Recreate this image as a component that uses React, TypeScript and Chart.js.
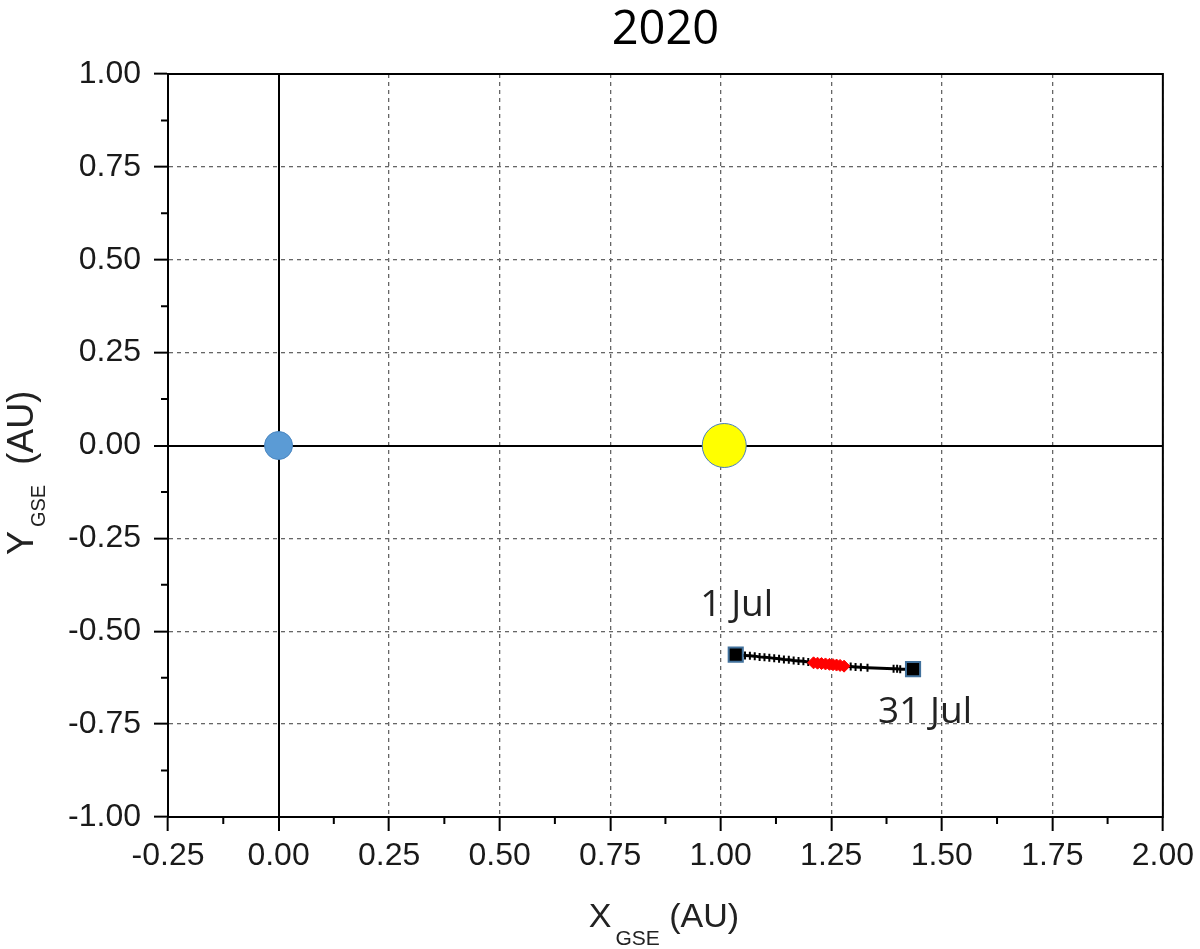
import React, { useEffect, useRef } from "react";
import { Chart, registerables } from "chart.js";

Chart.register(...registerables);

// ---- data ----
const titleText = "2020";
const xTicks = [-0.25, 0, 0.25, 0.5, 0.75, 1.0, 1.25, 1.5, 1.75, 2.0];
const yTicks = [-1.0, -0.75, -0.5, -0.25, 0, 0.25, 0.5, 0.75, 1.0];

const earthPos = [{ x: 0.0, y: 0.0 }];
const sunPos = [{ x: 1.008, y: 0.0 }];

// spacecraft track, July 2020 (black part)
const trackX = [
  1.034, 1.055, 1.066, 1.077, 1.088, 1.099, 1.11, 1.121, 1.132, 1.143, 1.154,
  1.165, 1.176, 1.187, 1.198, 1.21, 1.219, 1.228, 1.237, 1.246, 1.254, 1.262,
  1.27, 1.279, 1.294, 1.305, 1.317, 1.332, 1.391, 1.399, 1.406, 1.435,
];
const trackY = [
  -0.563, -0.565, -0.566, -0.567, -0.569, -0.57, -0.571, -0.573, -0.574,
  -0.576, -0.577, -0.579, -0.58, -0.581, -0.583, -0.585, -0.586, -0.587,
  -0.588, -0.589, -0.59, -0.591, -0.592, -0.594, -0.595, -0.596, -0.597,
  -0.598, -0.601, -0.601, -0.602, -0.602,
];
// highlighted (red) part of the track
const redX = [1.21, 1.219, 1.228, 1.237, 1.246, 1.254, 1.262, 1.27, 1.279];
const redY = [-0.585, -0.586, -0.587, -0.588, -0.589, -0.59, -0.591, -0.592, -0.594];

const startLabel = "1 Jul";
const endLabel = "31 Jul";

export default function App() {
  const ref = useRef<HTMLCanvasElement | null>(null);

  useEffect(() => {
    if (!ref.current) return;
    const track = trackX.map((x, i) => ({ x, y: trackY[i] }));
    const red = redX.map((x, i) => ({ x, y: redY[i] }));
    const ends = [track[0], track[track.length - 1]];

    const tickFont = { family: '"Liberation Sans", Arial, sans-serif', size: 32 };

    const decor = {
      id: "decor",
      afterDraw(chart: any) {
        const { ctx, chartArea: a, scales } = chart;
        const xs = scales.x;
        const ys = scales.y;
        ctx.save();
        // frame
        ctx.strokeStyle = "#000";
        ctx.lineWidth = 2;
        ctx.strokeRect(a.left, a.top, a.right - a.left, a.bottom - a.top);
        // minor ticks
        ctx.beginPath();
        for (let i = 0; i < xTicks.length - 1; i++) {
          const v = (xTicks[i] + xTicks[i + 1]) / 2;
          const px = xs.getPixelForValue(v);
          ctx.moveTo(px, a.bottom);
          ctx.lineTo(px, a.bottom + 7);
        }
        for (let i = 0; i < yTicks.length - 1; i++) {
          const v = (yTicks[i] + yTicks[i + 1]) / 2;
          const py = ys.getPixelForValue(v);
          ctx.moveTo(a.left - 7, py);
          ctx.lineTo(a.left, py);
        }
        ctx.stroke();

        // title
        ctx.fillStyle = "#000";
        ctx.font = '47px "Open Sans", sans-serif';
        ctx.textAlign = "center";
        ctx.textBaseline = "alphabetic";
        ctx.fillText(titleText, (a.left + a.right) / 2, 44);

        // x axis title with subscript
        const mainF = '34px "Liberation Sans", Arial, sans-serif';
        const subF = '21px "Liberation Sans", Arial, sans-serif';
        ctx.fillStyle = "#222";
        ctx.textAlign = "left";
        ctx.font = mainF;
        const wX = ctx.measureText("X").width;
        const wAU = ctx.measureText(" (AU)").width;
        ctx.font = subF;
        const wG = ctx.measureText("GSE").width;
        const gap = 4;
        let total = wX + gap + wG + wAU;
        let sx = 664 - total / 2;
        ctx.font = mainF;
        ctx.fillText("X", sx, 927);
        ctx.font = subF;
        ctx.fillText("GSE", sx + wX + gap, 945);
        ctx.font = mainF;
        ctx.fillText(" (AU)", sx + wX + gap + wG, 927);

        // y axis title with subscript (rotated)
        const mainY = '36px "Liberation Sans", Arial, sans-serif';
        const subY = '20px "Liberation Sans", Arial, sans-serif';
        ctx.save();
        ctx.translate(33, 473);
        ctx.rotate(-Math.PI / 2);
        ctx.font = mainY;
        const wY = ctx.measureText("Y").width;
        const wAU2 = ctx.measureText("  (AU)").width;
        ctx.font = subY;
        const wG2 = ctx.measureText("GSE").width;
        total = wY + gap + wG2 + wAU2;
        sx = -total / 2;
        ctx.font = mainY;
        ctx.fillText("Y", sx, 0);
        ctx.font = subY;
        ctx.fillText("GSE", sx + wY + gap, 12);
        ctx.font = mainY;
        ctx.fillText("  (AU)", sx + wY + gap + wG2, 0);
        ctx.restore();

        // date annotations
        ctx.fillStyle = "#222";
        ctx.font = '37px "Open Sans", sans-serif';
        ctx.textAlign = "center";
        const p0x = xs.getPixelForValue(ends[0].x);
        const p0y = ys.getPixelForValue(ends[0].y);
        ctx.fillText(startLabel, p0x + 1, p0y - 39);
        const p1x = xs.getPixelForValue(ends[1].x);
        const p1y = ys.getPixelForValue(ends[1].y);
        ctx.fillText(endLabel, p1x + 12, p1y + 54);
        ctx.restore();
      },
    };

    const isZero = (c: any) => c.tick && Math.abs(c.tick.value) < 1e-9;

    const chart = new Chart(ref.current, {
      type: "scatter",
      data: {
        datasets: [
          {
            data: ends,
            pointStyle: "rect",
            pointRadius: 10,
            backgroundColor: "#000",
            borderColor: "#41719c",
            borderWidth: 2,
            showLine: false,
          },
          {
            data: red,
            pointStyle: "rectRot",
            pointRadius: 6,
            backgroundColor: "#ff0000",
            borderColor: "#ff0000",
            borderWidth: 7,
            pointBorderWidth: 1,
            showLine: true,
          },
          {
            data: track,
            pointStyle: "line",
            rotation: 90,
            pointRadius: 4,
            backgroundColor: "#000",
            borderColor: "#000",
            borderWidth: 3,
            pointBorderWidth: 2,
            showLine: true,
          },
          {
            data: sunPos,
            pointStyle: "circle",
            pointRadius: 22,
            backgroundColor: "#ffff00",
            borderColor: "#4a7ebb",
            borderWidth: 1,
          },
          {
            data: earthPos,
            pointStyle: "circle",
            pointRadius: 14,
            backgroundColor: "#5b9bd5",
            borderColor: "#4a86c0",
            borderWidth: 1,
          },
        ],
      },
      options: {
        animation: false,
        responsive: false,
        devicePixelRatio: 1,
        layout: { padding: { left: 0, top: 74, right: 33, bottom: 0 } },
        plugins: {
          legend: { display: false },
          tooltip: { enabled: false },
          title: { display: false },
        },
        scales: {
          x: {
            type: "linear",
            min: -0.25,
            max: 2.0,
            afterFit: (s: any) => {
              s.height = 132;
            },
            afterBuildTicks: (s: any) => {
              s.ticks = xTicks.map((v) => ({ value: v }));
            },
            ticks: {
              font: tickFont,
              color: "#1a1a1a",
              padding: 6,
              maxRotation: 0,
              autoSkip: false,
              callback: (v: any) => Number(v).toFixed(2),
            },
            grid: {
              color: (c: any) => (isZero(c) ? "#000" : "#666"),
              lineWidth: (c: any) => (isZero(c) ? 2 : 1.3),
              tickColor: "#000",
              tickWidth: 2,
              tickLength: 14,
              drawTicks: true,
            },
            border: {
              display: true,
              color: "#000",
              width: 2,
              dash: (c: any) => (isZero(c) ? [] : [4, 4]),
            },
          },
          y: {
            type: "linear",
            min: -1,
            max: 1,
            afterFit: (s: any) => {
              s.width = 168;
            },
            afterBuildTicks: (s: any) => {
              s.ticks = yTicks.map((v) => ({ value: v }));
            },
            ticks: {
              font: tickFont,
              color: "#1a1a1a",
              padding: 13,
              autoSkip: false,
              callback: (v: any) => Number(v).toFixed(2),
            },
            grid: {
              color: (c: any) => (isZero(c) ? "#000" : "#666"),
              lineWidth: (c: any) => (isZero(c) ? 2 : 1.3),
              tickColor: "#000",
              tickWidth: 2,
              tickLength: 14,
              drawTicks: true,
            },
            border: {
              display: true,
              color: "#000",
              width: 2,
              dash: (c: any) => (isZero(c) ? [] : [4, 4]),
            },
          },
        },
      },
      plugins: [decor],
    } as any);

    return () => chart.destroy();
  }, []);

  return (
    <div
      style={{
        position: "fixed",
        left: 0,
        top: 0,
        width: 1200,
        height: 949,
        background: "#fff",
      }}
    >
      <canvas ref={ref} width={1200} height={949} />
    </div>
  );
}
